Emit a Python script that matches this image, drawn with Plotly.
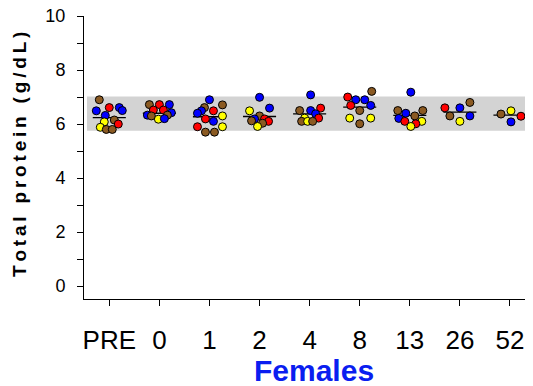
import plotly.graph_objects as go

# ---------------- data ----------------
groups = ["PRE", "0", "1", "2", "4", "8", "13", "26", "52"]

BR, R, B, Y = "brown", "red", "blue", "yellow"
palette = {"brown": "#8B5A22", "red": "#FF0000", "blue": "#0000FF", "yellow": "#FFFF00"}

vals_pre = [6.90, 6.61, 6.61, 6.50, 6.49, 6.32, 6.08, 6.15, 6.00, 5.88, 5.80, 5.80]
cols_pre = [BR, R, B, B, B, B, Y, BR, R, Y, BR, BR]
jit_pre = [-10, 0, 10, 13, -13, -4, -5, 5, 9, -9, -3, 3]

vals_0 = [6.72, 6.72, 6.72, 6.52, 6.52, 6.42, 6.33, 6.30, 6.33, 6.18, 6.20]
cols_0 = [BR, R, B, R, R, B, B, BR, BR, Y, B]
jit_0 = [-10, 0, 10, -6, 4, 12, -12, -8, 8, -1, 5]

vals_1 = [6.90, 6.61, 6.71, 6.49, 6.49, 6.40, 6.30, 6.19, 6.10, 5.90, 5.90, 5.70, 5.70]
cols_1 = [B, BR, BR, B, R, B, Y, R, B, Y, R, BR, BR]
jit_1 = [0, -5, 13, -8, 4, -12, 13, -4, 4, 13, -12, -4, 5]

vals_2 = [6.99, 6.59, 6.49, 6.30, 6.19, 6.19, 6.12, 6.10, 6.03, 5.91]
cols_2 = [B, B, Y, BR, B, R, BR, R, BR, Y]
jit_2 = [0, 10, -10, 0, -5, 5, -8, 9, 3, -2]

vals_4 = [7.08, 6.59, 6.50, 6.50, 6.38, 6.22, 6.22, 6.10, 6.10, 6.10]
cols_4 = [B, R, BR, B, B, R, Y, BR, Y, BR]
jit_4 = [1, 11, -10, 1, 6, 9, -5, -8, -2, 3]

vals_8 = [7.21, 7.00, 6.90, 6.90, 6.69, 6.69, 6.50, 6.22, 6.22, 6.01]
cols_8 = [BR, R, B, B, R, B, BR, Y, Y, BR]
jit_8 = [12, -12, -4, 5, -9, 11, 0, -10, 11, 0]

vals_13 = [7.18, 6.50, 6.50, 6.40, 6.30, 6.21, 6.10, 6.10, 6.01, 5.91]
cols_13 = [B, BR, BR, B, BR, B, R, Y, R, Y]
jit_13 = [1, -12, 13, -4, 5, -11, -5, 12, 6, 1]

vals_26 = [6.80, 6.60, 6.60, 6.30, 6.30, 6.10]
cols_26 = [BR, R, B, BR, B, Y]
jit_26 = [10, -15, 0, -10, 10, 0]

vals_52 = [6.37, 6.49, 6.29, 6.08]
cols_52 = [BR, Y, R, B]
jit_52 = [-9, 1, 11, 1]

medians = [6.24, 6.40, 6.27, 6.28, 6.38, 6.63, 6.32, 6.44, 6.33]

ref_low, ref_high = 5.75, 7.02

all_vals = [vals_pre, vals_0, vals_1, vals_2, vals_4, vals_8, vals_13, vals_26, vals_52]
all_cols = [cols_pre, cols_0, cols_1, cols_2, cols_4, cols_8, cols_13, cols_26, cols_52]
all_jit = [jit_pre, jit_0, jit_1, jit_2, jit_4, jit_8, jit_13, jit_26, jit_52]

# ---------------- figure ----------------
fig = go.Figure()

# reference band
fig.add_shape(type="rect", xref="x", yref="y", x0=-0.445, x1=8.5,
              y0=ref_low, y1=ref_high, fillcolor="#D3D3D3",
              line=dict(width=0), layer="below")

# median lines
mx, my = [], []
for i, m in enumerate(medians):
    mx += [i - 0.33, i + 0.33, None]
    my += [m, m, None]
fig.add_trace(go.Scatter(x=mx, y=my, mode="lines",
                         line=dict(color="black", width=1.3),
                         hoverinfo="skip", showlegend=False))

SPACING_PX = 50.1
for i, (v, c, j) in enumerate(zip(all_vals, all_cols, all_jit)):
    fig.add_trace(go.Scatter(
        x=[i + d / SPACING_PX for d in j], y=v, mode="markers",
        marker=dict(size=8, color=[palette[k] for k in c],
                    line=dict(color="black", width=1)),
        showlegend=False))

font_fam = "Liberation Sans, Arial, sans-serif"

# page body has an 8px margin, so the figure is sized 8px smaller
fig.update_layout(
    width=525, height=378,
    margin=dict(l=76, r=6, t=8, b=87, autoexpand=False),
    paper_bgcolor="white", plot_bgcolor="white",
    showlegend=False,
    font=dict(family=font_fam, color="black"),
)

fig.update_xaxes(
    range=[-0.505, 8.34], showgrid=False, zeroline=False, automargin=False,
    tickmode="array", tickvals=list(range(len(groups))), ticktext=groups,
    ticks="outside", ticklen=6, tickwidth=1, tickcolor="black",
    showline=True, linecolor="black", linewidth=1,
    tickfont=dict(size=26, family=font_fam, color="black"),
    ticklabelstandoff=12, ticklabeloverflow="allow",
)

fig.update_yaxes(
    range=[-0.48, 10.002], showgrid=False, zeroline=False, automargin=False,
    tickmode="array", tickvals=[0, 2, 4, 6, 8, 10],
    ticks="outside", ticklen=6, tickwidth=1, tickcolor="black",
    showline=True, linecolor="black", linewidth=1,
    tickfont=dict(size=18, family=font_fam, color="black"),
    ticklabelstandoff=8, ticklabeloverflow="allow",
    minor=dict(tickvals=[1, 3, 5, 7, 9], ticks="outside", ticklen=6,
               tickcolor="black", tickwidth=1),
)

ytitle = "Total protein (g/dL)"
ytitle_spaced = "\u2009".join(ytitle)
fig.add_annotation(text="<b>" + ytitle_spaced + "</b>", textangle=-90,
                   xref="paper", yref="paper", x=-0.147, y=0.512,
                   xanchor="center", yanchor="middle", showarrow=False,
                   font=dict(size=19, family=font_fam, color="black"))

fig.add_annotation(text="<b>Females</b>", xref="paper", yref="paper",
                   x=0.519, y=-0.251, xanchor="center", yanchor="middle",
                   showarrow=False,
                   font=dict(size=30, family=font_fam, color="#0A1EF0"))

fig.write_html("out.html")
